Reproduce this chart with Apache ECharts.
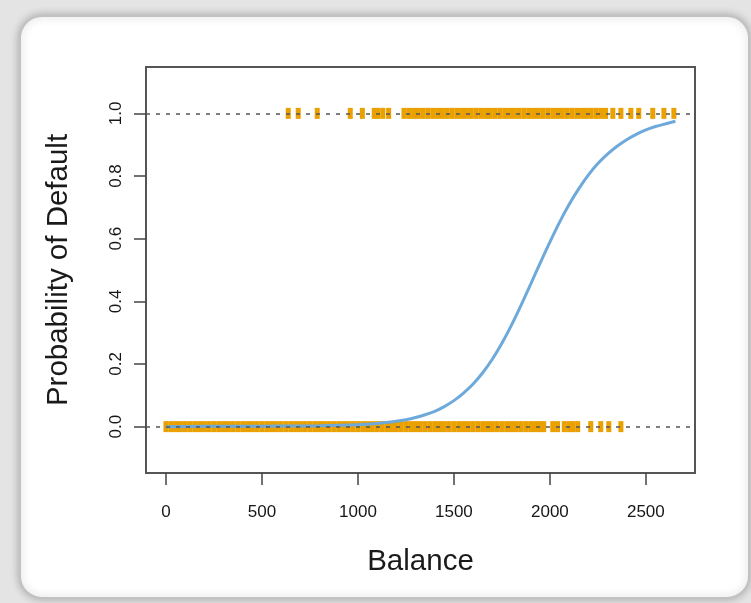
<!DOCTYPE html>
<html>
<head>
<meta charset="utf-8">
<script src="https://cdn.jsdelivr.net/npm/echarts@6/dist/echarts.min.js"></script>
<style>
html,body{margin:0;padding:0;background:#e4e4e4;}
#chart{width:751px;height:603px;}
</style>
</head>
<body>
<div id="chart"></div>
<script>
// Tick labels
var xTicks = [0, 500, 1000, 1500, 2000, 2500];
var yTicks = [0, 0.2, 0.4, 0.6, 0.8, 1.0];

// Balances of observations with default = No (drawn at 0)
var noBalances = [
  0,25,50,75,100,125,150,175,200,225,250,275,300,325,350,375,400,425,450,475,
  500,525,550,575,600,625,650,675,700,725,750,775,800,825,850,875,900,925,950,975,
  1000,1025,1050,1075,1100,1125,1150,1175,1200,1225,1250,1275,1300,1325,1350,1375,1400,1425,1450,1475,
  1500,1525,1550,1575,1600,1625,1650,1675,1700,1725,1750,1775,1800,1825,1850,1875,1900,1925,1950,1968,
  2015,2040,2075,2100,2120,2145,2213,2265,2307,2370
];

// Balances of observations with default = Yes (drawn at 1)
var yesBalances = [
  637,689,788,960,1023,1085,1105,1130,1160,
  1240,1265,1290,1315,1340,1365,1390,1415,1440,1465,1490,1515,1540,1565,1590,1615,1640,1665,1690,1715,
  1740,1765,1790,1815,1840,1865,1890,1915,1940,1965,1990,2015,2040,2065,2090,2115,2140,2165,2190,2215,
  2240,2265,2290,2328,2370,2422,2463,2536,2594,2646
];

// Fitted probability curve
var curveBalance = [0, 200, 400, 600, 800, 1000, 1100, 1200, 1250, 1300, 1350, 1400, 1450, 1500, 1550, 1600, 1650, 1700, 1750, 1800, 1850, 1900, 1950, 2000, 2050, 2100, 2150, 2200, 2250, 2300, 2350, 2400, 2450, 2500, 2550, 2600, 2654];
var curveProb    = [0.000, 0.001, 0.001, 0.002, 0.003, 0.006, 0.010, 0.017, 0.022, 0.029, 0.038, 0.049, 0.064, 0.083, 0.107, 0.136, 0.172, 0.215, 0.266, 0.324, 0.388, 0.455, 0.523, 0.589, 0.652, 0.709, 0.759, 0.803, 0.840, 0.870, 0.895, 0.916, 0.933, 0.947, 0.958, 0.966, 0.975];

var chart = echarts.init(document.getElementById('chart'), null, {renderer: 'canvas'});

var font = '"Liberation Sans", Arial, Helvetica, sans-serif';
var orange = '#E9A000';

var option = {
  backgroundColor: '#e4e4e4',
  animation: false,
  graphic: [{
    type: 'rect',
    z: -100,
    shape: {x: 20, y: 16, width: 729, height: 582, r: 22},
    style: {
      fill: '#ffffff',
      stroke: '#c2c2c2',
      lineWidth: 2,
      shadowBlur: 8,
      shadowColor: 'rgba(0,0,0,0.25)'
    }
  }],
  grid: {
    left: 146, top: 67, width: 549, height: 406,
    show: true, borderColor: '#555', borderWidth: 2, backgroundColor: 'transparent'
  },
  xAxis: {
    type: 'value',
    min: -104, max: 2756,
    name: 'Balance',
    nameLocation: 'middle',
    nameGap: 74,
    nameTextStyle: {fontFamily: font, fontSize: 29.5, color: '#1a1a1a'},
    axisLine: {show: false, onZero: false},
    splitLine: {show: false},
    axisTick: {show: true, length: 12, customValues: xTicks, lineStyle: {color: '#444', width: 1.5}},
    axisLabel: {
      customValues: xTicks, margin: 31,
      fontFamily: font, fontSize: 17, color: '#161616',
      formatter: function (v) { return String(v); }
    }
  },
  yAxis: {
    type: 'value',
    min: -0.148, max: 1.148,
    name: 'Probability of Default',
    nameLocation: 'middle',
    nameGap: 72,
    nameTextStyle: {fontFamily: font, fontSize: 29.5, color: '#1a1a1a'},
    axisLine: {show: false, onZero: false},
    splitLine: {show: false},
    axisTick: {show: true, length: 12, customValues: yTicks, lineStyle: {color: '#444', width: 1.5}},
    axisLabel: {
      customValues: yTicks, rotate: 90, margin: 21,
      fontFamily: font, fontSize: 17, color: '#161616',
      formatter: function (v) { return v.toFixed(1); }
    }
  },
  series: [
    {
      type: 'scatter',
      name: 'No',
      symbol: 'rect',
      symbolSize: [5, 11],
      itemStyle: {color: orange, opacity: 1},
      z: 2,
      data: noBalances.map(function (b) { return [b, 0]; })
    },
    {
      type: 'scatter',
      name: 'Yes',
      symbol: 'rect',
      symbolSize: [5, 11],
      itemStyle: {color: orange, opacity: 1},
      z: 2,
      data: yesBalances.map(function (b) { return [b, 1]; })
    },
    {
      type: 'line',
      name: 'Fit',
      smooth: 0.3,
      showSymbol: false,
      lineStyle: {color: '#6DA9DA', width: 3},
      z: 3,
      data: curveBalance.map(function (b, i) { return [b, curveProb[i]]; })
    },
    {
      type: 'scatter',
      name: 'ref',
      data: [],
      z: 5,
      markLine: {
        silent: true,
        symbol: ['none', 'none'],
        label: {show: false},
        lineStyle: {color: '#555', width: 1.6, type: [4, 6]},
        data: [{yAxis: 0}, {yAxis: 1}]
      }
    }
  ]
};
chart.setOption(option);
</script>
</body>
</html>
